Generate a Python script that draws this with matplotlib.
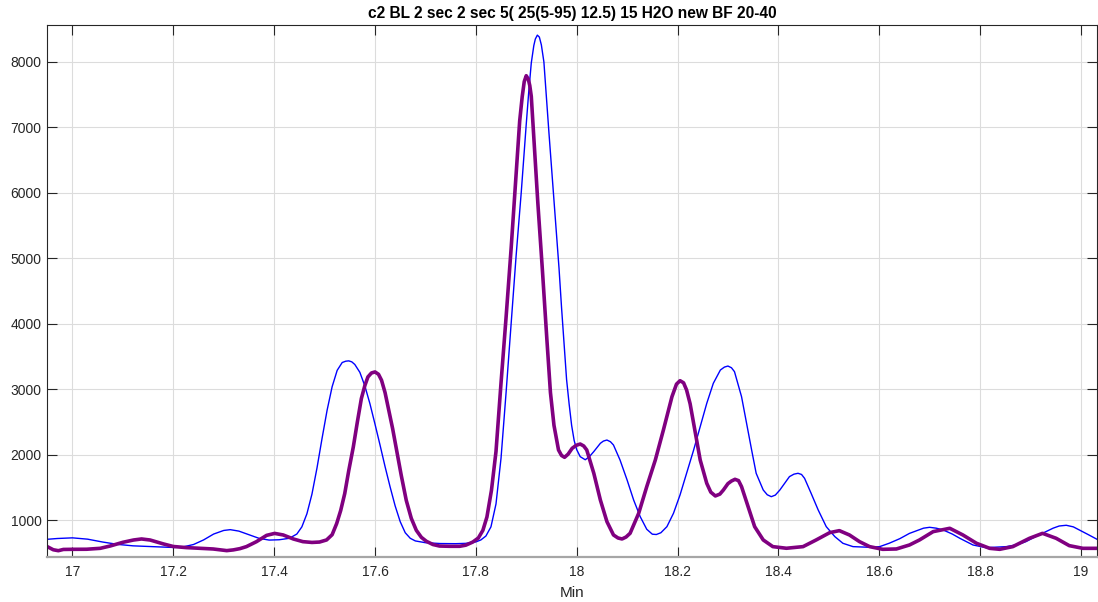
import matplotlib
matplotlib.use('Agg')
import matplotlib.pyplot as plt

plt.rcParams['font.family'] = ['Liberation Sans', 'DejaVu Sans']

# run 1 (thin blue trace)
t_blue = [16.950, 16.970, 17.000, 17.030, 17.060, 17.090, 17.120, 17.160, 17.200, 17.220,
          17.240, 17.260, 17.280, 17.300, 17.313, 17.330, 17.350, 17.370, 17.390, 17.410,
          17.430, 17.445, 17.455, 17.465, 17.475, 17.485, 17.495, 17.505, 17.515, 17.525,
          17.535, 17.542, 17.548, 17.554, 17.560, 17.570, 17.580, 17.590, 17.600, 17.610,
          17.620, 17.630, 17.640, 17.650, 17.660, 17.670, 17.680, 17.700, 17.730, 17.760,
          17.780, 17.800, 17.810, 17.820, 17.830, 17.840, 17.850, 17.860, 17.870, 17.880,
          17.890, 17.900, 17.905, 17.910, 17.915, 17.918, 17.922, 17.926, 17.930, 17.935,
          17.940, 17.945, 17.950, 17.955, 17.960, 17.965, 17.970, 17.975, 17.980, 17.985,
          17.990, 17.995, 18.000, 18.007, 18.017, 18.025, 18.034, 18.047, 18.053, 18.060,
          18.067, 18.073, 18.086, 18.100, 18.113, 18.126, 18.139, 18.150, 18.158, 18.167,
          18.179, 18.192, 18.205, 18.218, 18.232, 18.245, 18.258, 18.271, 18.285, 18.293,
          18.300, 18.307, 18.313, 18.327, 18.337, 18.347, 18.356, 18.370, 18.378, 18.386,
          18.394, 18.403, 18.422, 18.431, 18.439, 18.446, 18.452, 18.465, 18.479, 18.495,
          18.512, 18.528, 18.548, 18.580, 18.601, 18.620, 18.641, 18.660, 18.674, 18.688,
          18.700, 18.713, 18.727, 18.745, 18.760, 18.786, 18.812, 18.852, 18.875, 18.891,
          18.910, 18.931, 18.945, 18.957, 18.971, 18.985, 18.997, 19.015, 19.032]
y_blue = [710, 722, 732, 712, 668, 632, 610, 598, 585, 595,
          630, 700, 790, 845, 857, 835, 780, 725, 698, 703,
          725, 790, 900, 1100, 1400, 1800, 2250, 2680, 3040, 3290,
          3410, 3430, 3435, 3420, 3380, 3260, 3050, 2780, 2470, 2150,
          1820, 1510, 1220, 980, 810, 725, 685, 658, 645, 643,
          648, 670, 700, 760, 900, 1250, 1950, 2950, 4000, 5050,
          6000, 7050, 7550, 7985, 8250, 8350, 8410, 8380, 8260, 8000,
          7450, 6920, 6400, 5900, 5380, 4850, 4250, 3700, 3150, 2780,
          2450, 2220, 2080, 1972, 1925, 1970, 2050, 2176, 2210, 2226,
          2200, 2150, 1921, 1616, 1310, 1056, 863, 788, 783, 810,
          903, 1107, 1387, 1718, 2074, 2430, 2786, 3092, 3295, 3340,
          3356, 3330, 3270, 2888, 2481, 2074, 1718, 1463, 1390, 1361,
          1385, 1463, 1667, 1705, 1718, 1700, 1641, 1412, 1158, 903,
          751, 649, 598, 588, 598, 650, 720, 800, 840, 880,
          893, 880, 852, 790, 725, 623, 582, 598, 630, 674,
          750, 827, 880, 913, 924, 900, 852, 780, 710]

# run 2 (thick purple trace)
t_purple = [16.950, 16.962, 16.972, 16.982, 17.000, 17.028, 17.055, 17.075, 17.100, 17.121,
            17.137, 17.154, 17.180, 17.200, 17.226, 17.253, 17.279, 17.295, 17.306, 17.319,
            17.332, 17.345, 17.365, 17.385, 17.401, 17.418, 17.438, 17.457, 17.475, 17.490,
            17.504, 17.515, 17.524, 17.532, 17.540, 17.548, 17.557, 17.565, 17.573, 17.580,
            17.586, 17.593, 17.600, 17.607, 17.613, 17.620, 17.626, 17.635, 17.643, 17.652,
            17.662, 17.672, 17.682, 17.692, 17.702, 17.715, 17.728, 17.748, 17.768, 17.780,
            17.794, 17.805, 17.814, 17.822, 17.831, 17.840, 17.850, 17.860, 17.870, 17.880,
            17.887, 17.892, 17.896, 17.900, 17.904, 17.907, 17.910, 17.916, 17.923, 17.932,
            17.941, 17.948, 17.955, 17.964, 17.970, 17.976, 17.983, 17.991, 17.999, 18.007,
            18.014, 18.020, 18.034, 18.047, 18.060, 18.073, 18.082, 18.090, 18.098, 18.106,
            18.123, 18.139, 18.156, 18.172, 18.189, 18.198, 18.205, 18.212, 18.218, 18.225,
            18.232, 18.245, 18.258, 18.266, 18.275, 18.284, 18.291, 18.300, 18.307, 18.314,
            18.321, 18.327, 18.340, 18.353, 18.370, 18.389, 18.416, 18.449, 18.475, 18.502,
            18.521, 18.541, 18.561, 18.581, 18.607, 18.634, 18.660, 18.680, 18.707, 18.740,
            18.766, 18.793, 18.819, 18.839, 18.865, 18.898, 18.924, 18.951, 18.977, 19.004,
            19.032]
y_purple = [598, 550, 536, 555, 557, 558, 572, 608, 664, 699,
            715, 699, 640, 600, 583, 572, 562, 548, 537, 548,
            567, 598, 674, 770, 800, 776, 715, 674, 662, 668,
            700, 780, 950, 1150, 1408, 1760, 2120, 2500, 2860, 3060,
            3190, 3250, 3266, 3230, 3139, 2950, 2731, 2400, 2070, 1690,
            1306, 1030, 847, 740, 679, 630, 607, 603, 603, 620,
            668, 730, 847, 1050, 1458, 2050, 3100, 4100, 5150, 6300,
            7100, 7470, 7700, 7790, 7740, 7640, 7474, 6720, 5845, 4826,
            3753, 2950, 2450, 2074, 1990, 1962, 2010, 2099, 2145, 2165,
            2135, 2074, 1718, 1310, 980, 776, 730, 715, 745, 802,
            1107, 1514, 1921, 2379, 2888, 3080, 3132, 3100, 2990, 2780,
            2481, 1921, 1565, 1430, 1372, 1400, 1463, 1560, 1600, 1626,
            1606, 1514, 1209, 903, 700, 598, 573, 598, 700, 812,
            842, 776, 674, 598, 557, 562, 623, 700, 827, 878,
            776, 649, 572, 557, 598, 725, 801, 725, 613, 572,
            572]

x_ticks = [17, 17.2, 17.4, 17.6, 17.8, 18, 18.2, 18.4, 18.6, 18.8, 19]
x_labels = ['17', '17.2', '17.4', '17.6', '17.8', '18', '18.2', '18.4', '18.6', '18.8', '19']
y_ticks = [1000, 2000, 3000, 4000, 5000, 6000, 7000, 8000]

fig = plt.figure(figsize=(10.98, 6.02), dpi=100)
ax = fig.add_axes([0.0428, 0.0748, 0.9563, 0.8837])

ax.plot(t_blue, y_blue, color=(0, 0, 1), lw=1.0, solid_joinstyle='round')
ax.plot(t_purple, y_purple, color=(0.5, 0, 0.5), lw=2.6, solid_joinstyle='round')

ax.set_xlim(16.9495, 19.032)
ax.set_ylim(440, 8565)
ax.set_xticks(x_ticks)
ax.set_xticklabels(x_labels)
ax.set_yticks(y_ticks)

ax.grid(True, color='#dcdcdc', lw=0.8)
ax.set_axisbelow(True)
ax.tick_params(direction='in', length=7, width=0.8, colors='#262626', labelsize=10,
               top=True, right=True)
ax.tick_params(axis='x', pad=6)
ax.tick_params(axis='y', pad=4)
for s in ax.spines.values():
    s.set_color('#262626')
    s.set_linewidth(0.8)
ax.spines['bottom'].set_color('#a6a6a6')
ax.spines['bottom'].set_linewidth(1.6)

ax.set_xlabel('Min', fontsize=11, color='#262626', labelpad=5)
ax.set_title('c2 BL 2 sec 2 sec 5( 25(5-95) 12.5) 15 H2O new BF 20-40',
             fontsize=11.2, fontweight='bold', pad=5)

fig.savefig('out.png', dpi=100)
